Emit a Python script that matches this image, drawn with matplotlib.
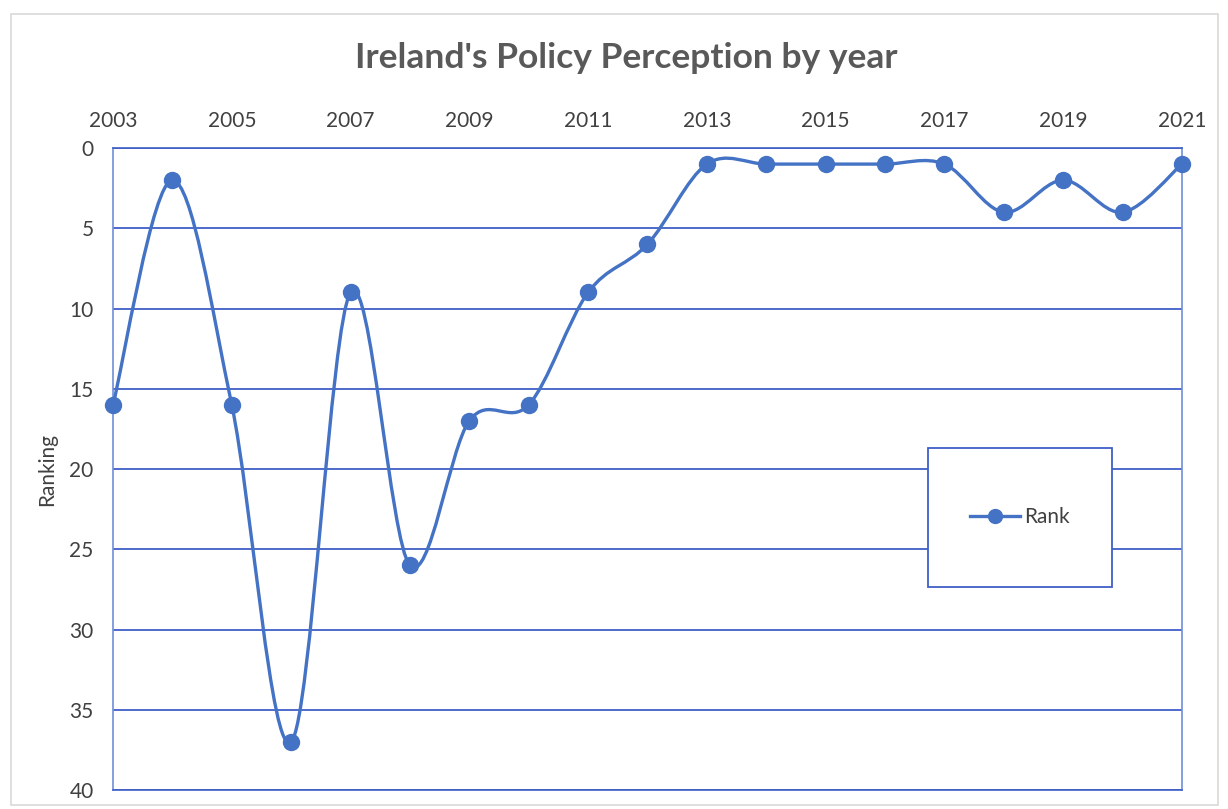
import matplotlib
matplotlib.use('Agg')
import matplotlib.pyplot as plt
from matplotlib.path import Path
from matplotlib.patches import PathPatch, Rectangle
from matplotlib.lines import Line2D

plt.rcParams['font.family'] = ['Lato', 'DejaVu Sans']

years = [2003, 2004, 2005, 2006, 2007, 2008, 2009, 2010, 2011, 2012,
         2013, 2014, 2015, 2016, 2017, 2018, 2019, 2020, 2021]
rank = [16, 2, 16, 37, 9, 26, 17, 16, 9, 6,
        1, 1, 1, 1, 1, 4, 2, 4, 1]
year_ticks = list(range(2003, 2022, 2))
rank_ticks = [0, 5, 10, 15, 20, 25, 30, 35, 40]

blue = '#4472C4'
grid_blue = '#3F5FC8'


def smooth_path(xs, ys, t=1/6):
    # excel-ish smoothed line: bezier segments with catmull-rom handles
    verts = [(xs[0], ys[0])]
    codes = [Path.MOVETO]
    n = len(xs)
    for i in range(n - 1):
        x0, y0 = xs[max(i - 1, 0)], ys[max(i - 1, 0)]
        x1, y1 = xs[i], ys[i]
        x2, y2 = xs[i + 1], ys[i + 1]
        x3, y3 = xs[min(i + 2, n - 1)], ys[min(i + 2, n - 1)]
        c1 = (x1 + (x2 - x0) * t, y1 + (y2 - y0) * t)
        c2 = (x2 - (x3 - x1) * t, y2 - (y3 - y1) * t)
        verts += [c1, c2, (x2, y2)]
        codes += [Path.CURVE4] * 3
    return Path(verts, codes)


fig = plt.figure(figsize=(12.28, 8.09), dpi=100)
fig.patches.append(Rectangle((0.009, 0.005), 0.983, 0.978, transform=fig.transFigure,
                             fill=False, edgecolor='#D9D9D9', linewidth=1.2))

ax = fig.add_axes([0.092, 0.0235, 0.8705, 0.7935])

ax.add_patch(PathPatch(smooth_path(years, rank), fill=False, edgecolor=blue,
                       linewidth=2.4, zorder=3, capstyle='round', joinstyle='round'))
ax.plot(years, rank, linestyle='none', marker='o', markersize=11.5,
        color=blue, zorder=4, clip_on=False)

ax.set_xlim(2003, 2021)
ax.set_ylim(40, 0)
ax.set_xticks(year_ticks)
ax.set_yticks(rank_ticks)
ax.xaxis.tick_top()
ax.tick_params(axis='both', length=0, labelsize=15, labelcolor='#404040')
ax.tick_params(axis='x', pad=12)
ax.tick_params(axis='y', pad=14)
ax.yaxis.grid(True, color=grid_blue, linewidth=1.3)
ax.set_axisbelow(True)
for s in ax.spines.values():
    s.set_color('#6F8FD8')
    s.set_linewidth(1.2)
ax.spines['top'].set_color(grid_blue)
ax.spines['bottom'].set_color(grid_blue)

ax.set_ylabel('Ranking', fontsize=15, color='#404040', labelpad=9)

fig.text(0.51, 0.928, "Ireland's Policy Perception by year", ha='center', va='center',
         fontsize=25.5, fontweight='bold', color='#595959')

# legend box
box = (0.762, 0.316, 0.173, 0.217)
ax.add_patch(Rectangle(box[:2], box[2], box[3], transform=ax.transAxes,
                       facecolor='white', edgecolor=grid_blue, linewidth=1.3, zorder=5))
handle = Line2D([], [], color=blue, linewidth=2.4, marker='o', markersize=10)
leg = ax.legend([handle], ['Rank'], loc='center', bbox_to_anchor=box,
                frameon=False, fontsize=15, handlelength=2.4, handletextpad=0.2)
leg.set_zorder(6)
for txt in leg.get_texts():
    txt.set_color('#404040')

fig.savefig('out.png', dpi=100)
